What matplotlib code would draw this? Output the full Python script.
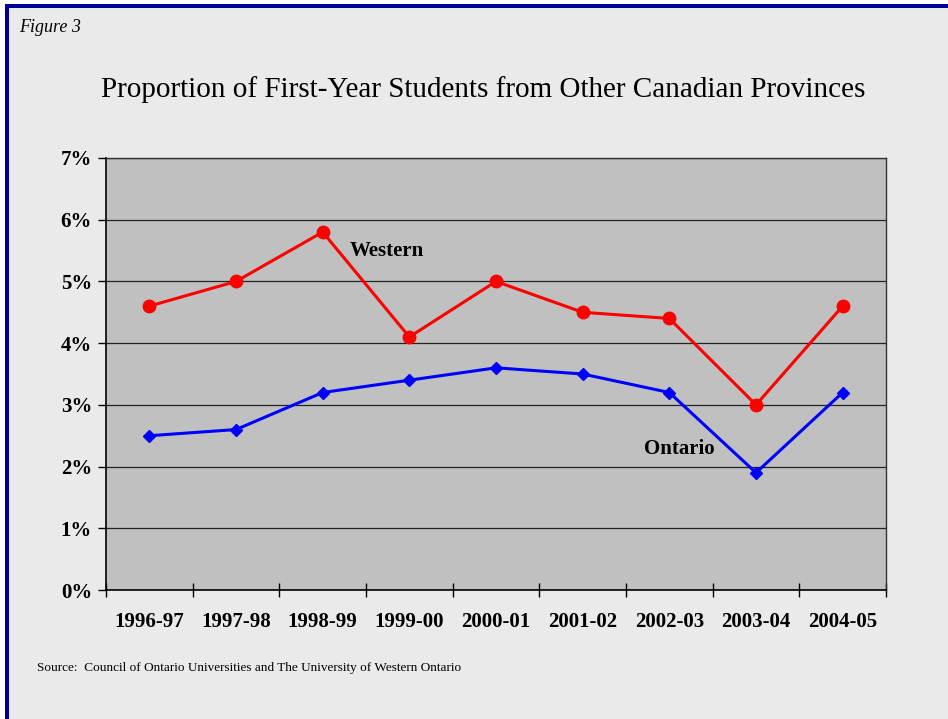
import matplotlib
matplotlib.use("Agg")
import matplotlib.pyplot as plt
from matplotlib.patches import Rectangle
from matplotlib.ticker import FixedLocator, NullFormatter

categories = ["1996-97", "1997-98", "1998-99", "1999-00", "2000-01",
              "2001-02", "2002-03", "2003-04", "2004-05"]
western = [4.6, 5.0, 5.8, 4.1, 5.0, 4.5, 4.4, 3.0, 4.6]
ontario = [2.5, 2.6, 3.2, 3.4, 3.6, 3.5, 3.2, 1.9, 3.2]
y_ticks = [0, 1, 2, 3, 4, 5, 6, 7]
y_labels = ["0%", "1%", "2%", "3%", "4%", "5%", "6%", "7%"]

plt.rcParams['font.family'] = ['Liberation Serif', 'DejaVu Serif']

W, H = 948, 719
fig = plt.figure(figsize=(W / 100, H / 100), dpi=100)
fig.patch.set_facecolor('white')

# light gray page background and navy border (left & top)
fig.patches.append(Rectangle((5 / W, 0), 1, (H - 4) / H, transform=fig.transFigure,
                             facecolor='#EAEAEA', edgecolor='none', zorder=-10))
fig.patches.append(Rectangle((5 / W, 0), 4 / W, (H - 4) / H, transform=fig.transFigure,
                             facecolor='#000099', edgecolor='none', zorder=-5))
fig.patches.append(Rectangle((5 / W, (H - 8) / H), 1, 4 / H, transform=fig.transFigure,
                             facecolor='#000099', edgecolor='none', zorder=-5))

left, right, top, bottom = 106, 886, 158, 590
ax = fig.add_axes([left / W, (H - bottom) / H, (right - left) / W, (bottom - top) / H])
ax.set_facecolor('#C0C0C0')

x = list(range(len(categories)))
ax.plot(x, western, color='#FF0000', lw=2.2, marker='o', markersize=9, zorder=3)
ax.plot(x, ontario, color='#0000FF', lw=2.2, marker='D', markersize=6.5, zorder=3)

ax.set_xlim(-0.5, len(categories) - 0.5)
ax.set_ylim(0, 7)
ax.set_yticks(y_ticks)
ax.set_yticklabels(y_labels, fontsize=15, fontweight='bold')
ax.yaxis.grid(True, color='#222222', lw=0.9)
ax.set_axisbelow(True)

ax.xaxis.set_major_locator(FixedLocator([i - 0.5 for i in range(len(categories) + 1)]))
ax.xaxis.set_major_formatter(NullFormatter())
ax.xaxis.set_minor_locator(FixedLocator(x))
ax.set_xticklabels(categories, minor=True, fontsize=15, fontweight='bold')
ax.tick_params(axis='x', which='major', direction='inout', length=10, width=1, color='black')
ax.tick_params(axis='x', which='minor', length=0, pad=16)
ax.tick_params(axis='y', direction='out', length=6, width=1, pad=4)

for s in ['left', 'bottom']:
    ax.spines[s].set_color('black')
    ax.spines[s].set_linewidth(1.2)
for s in ['top', 'right']:
    ax.spines[s].set_color('#333333')
    ax.spines[s].set_linewidth(1)

ax.text(2.315, 5.50, "Western", fontsize=15, fontweight='bold', ha='left', va='center')
ax.text(6.11, 2.29, "Ontario", fontsize=15, fontweight='bold', ha='center', va='center')

fig.text(483 / W, 1 - 90 / H, "Proportion of First-Year Students from Other Canadian Provinces",
         fontsize=21, ha='center', va='center')
fig.text(19 / W, 1 - 27 / H, "Figure 3", fontsize=13, style='italic', ha='left', va='center')
fig.text(37 / W, 1 - 668 / H,
         "Source:  Council of Ontario Universities and The University of Western Ontario",
         fontsize=9.5, ha='left', va='center')

fig.savefig("out.png", dpi=100, facecolor=fig.get_facecolor())
